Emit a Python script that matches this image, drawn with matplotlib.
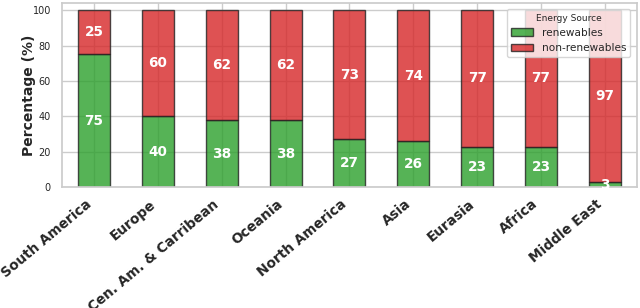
import matplotlib
matplotlib.use("Agg")
import matplotlib.pyplot as plt
import seaborn as sns
import numpy as np

sns.set_theme(style="whitegrid")
plt.rcParams['font.family'] = ['DejaVu Sans']

regions = ["South America", "Europe", "Cen. Am. & Carribean", "Oceania",
           "North America", "Asia", "Eurasia", "Africa", "Middle East"]
renewables = [75, 40, 38, 38, 27, 26, 23, 23, 3]
non_renewables = [25, 60, 62, 62, 73, 74, 77, 77, 97]

fig = plt.figure(figsize=(6.4, 3.08), dpi=100)
ax = fig.add_axes([0.097, 0.392, 0.898, 0.598])

x = np.arange(len(regions))
w = 0.5
ax.bar(x, renewables, w, color='#2ca02c', alpha=0.8, edgecolor='#222222',
       linewidth=1.0, label='renewables')
ax.bar(x, non_renewables, w, bottom=renewables, color='#d62728', alpha=0.8,
       edgecolor='#222222', linewidth=1.0, label='non-renewables')

for i in range(len(regions)):
    ax.text(x[i], renewables[i] / 2, f"{renewables[i]}", ha='center', va='center',
            color='white', fontsize=9.8, fontweight='bold')
    ax.text(x[i], renewables[i] + non_renewables[i] / 2, f"{non_renewables[i]}",
            ha='center', va='center', color='white', fontsize=9.8, fontweight='bold')

ax.set_xlim(-0.5, len(regions) - 0.5)
ax.set_ylim(0, 104)
ax.set_yticks([0, 20, 40, 60, 80, 100])
ax.tick_params(axis='y', labelsize=7, pad=2)
ax.set_xticks(x)
ax.set_xticklabels(regions, rotation=40, ha='right',
                   fontsize=9.8, fontweight='bold')
ax.tick_params(axis='x', pad=1)
ax.set_ylabel("Percentage (%)", fontsize=10, fontweight='bold')
ax.yaxis.set_label_coords(-0.045, 0.5)
ax.legend(title="Energy Source", loc='upper right', fontsize=7.6, title_fontsize=6.5,
          handlelength=2.1, bbox_to_anchor=(0.998, 0.995))

fig.savefig("out.png", dpi=100)
